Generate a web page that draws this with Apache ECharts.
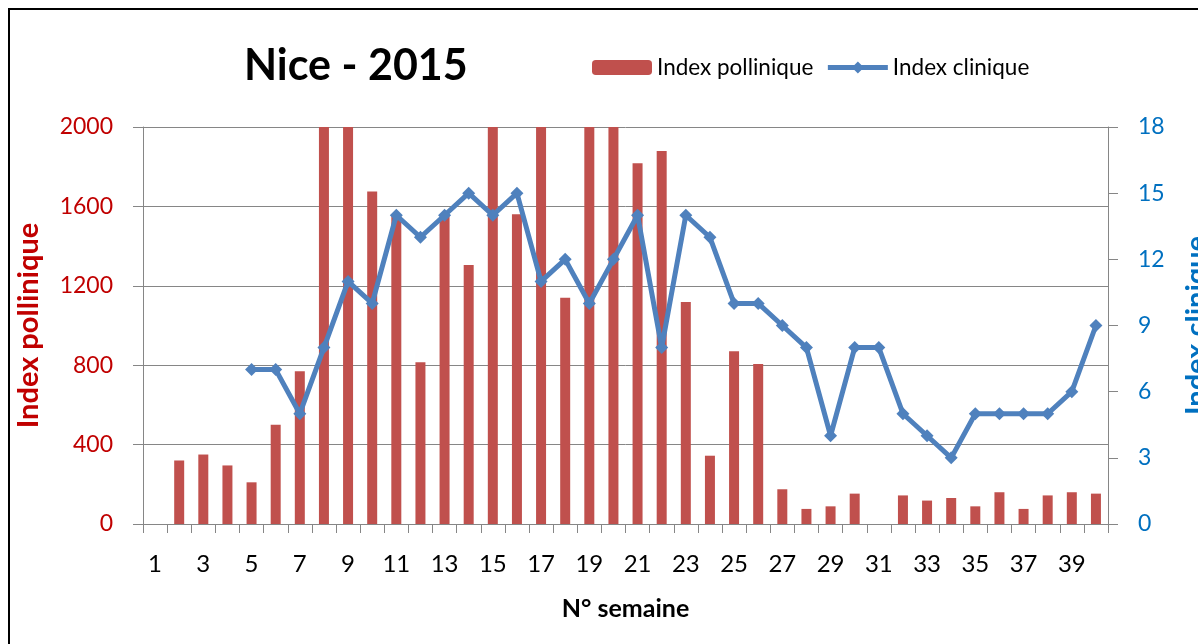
<!DOCTYPE html>
<html>
<head>
<meta charset="utf-8">
<script src="https://cdn.jsdelivr.net/npm/echarts@6/dist/echarts.min.js"></script>
<style>
  html, body { margin: 0; padding: 0; background: #fff; }
  #chart { width: 1198px; height: 644px; }
</style>
</head>
<body>
<div id="chart"></div>
<script>
// semaines 1..40
const weeks = [];
for (let i = 1; i <= 40; i++) weeks.push(String(i));

// Index pollinique (bars, left axis) - values over 2000 are cut at the top
const pollen = [
  null, 320, 350, 295, 210, 500, 770, 2000, 2000, 1675,
  1550, 815, 1550, 1305, 2000, 1560, 2000, 1140, 2000, 2000,
  1817, 1879, 1118, 344, 870, 806, 175, 76, 89, 153,
  null, 144, 118, 131, 89, 160, 76, 144, 160, 153
];

// Index clinique (line, right axis)
const clinique = [
  null, null, null, null, 7, 7, 5, 8, 11, 10,
  14, 13, 14, 15, 14, 15, 11, 12, 10, 12,
  14, 8, 14, 13, 10, 10, 9, 8, 4, 8,
  8, 5, 4, 3, 5, 5, 5, 5, 6, 9
];

const leftTicks = { min: 0, max: 2000, interval: 400 };
const rightTicks = { min: 0, max: 18, interval: 3 };

const red = "#C0504D";
const blue = "#4F81BD";
const font = "Lato, 'Open Sans', sans-serif";

const myChart = echarts.init(document.getElementById("chart"));

myChart.setOption({
  animation: false,
  textStyle: { fontFamily: font },
  title: {
    text: "Nice - 2015",
    left: 239,
    top: 40,
    textStyle: { fontSize: 43, fontWeight: "bold", color: "#000", fontFamily: font },
  },
  legend: {
    left: 587,
    top: 51,
    itemWidth: 60,
    itemHeight: 15,
    itemGap: 12,
    textStyle: { fontSize: 22.5, color: "#000", fontFamily: font },
    data: [
      { name: "Index pollinique" },
      { name: "Index clinique", lineStyle: { width: 5 }, itemStyle: { borderWidth: 0 } },
    ],
  },
  graphic: [
    {
      type: "rect",
      shape: { x: 9, y: 9, width: 1300, height: 700 },
      style: { fill: "none", stroke: "#000", lineWidth: 2 },
      silent: true,
    },
  ],
  grid: {
    left: 143,
    right: 90,
    top: 127,
    bottom: 120,
    containLabel: false,
    outerBoundsMode: "none",
  },
  xAxis: {
    type: "category",
    data: weeks,
    boundaryGap: true,
    name: "N° semaine",
    nameLocation: "middle",
    nameGap: 72,
    nameTextStyle: { fontSize: 25, fontWeight: "bold", color: "#000" },
    axisLine: { lineStyle: { color: "#868686", width: 1 } },
    axisTick: { show: true, interval: 0, length: 9, lineStyle: { color: "#868686" } },
    axisLabel: { interval: 1, fontSize: 24, color: "#000", margin: 28 },
  },
  yAxis: [
    {
      type: "value",
      min: leftTicks.min,
      max: leftTicks.max,
      interval: leftTicks.interval,
      position: "left",
      name: "Index pollinique",
      nameLocation: "middle",
      nameRotate: 90,
      nameGap: 100,
      nameTextStyle: { fontSize: 29, fontWeight: "bold", color: "#C00000" },
      axisLine: { show: true, lineStyle: { color: "#868686" } },
      axisTick: { show: true, length: 10, lineStyle: { color: "#868686" } },
      axisLabel: { fontSize: 23, color: "#C00000", margin: 30, formatter: (v) => String(v) },
      splitLine: { show: true, lineStyle: { color: "#868686", width: 1 } },
    },
    {
      type: "value",
      min: rightTicks.min,
      max: rightTicks.max,
      interval: rightTicks.interval,
      position: "right",
      name: "Index clinique",
      nameLocation: "middle",
      nameRotate: 90,
      nameGap: 74,
      nameTextStyle: { fontSize: 29, fontWeight: "bold", color: "#0070C0" },
      axisLine: { show: true, lineStyle: { color: "#868686" } },
      axisTick: { show: true, length: 10, lineStyle: { color: "#868686" } },
      axisLabel: { fontSize: 23, color: "#0070C0", margin: 30 },
      splitLine: { show: false },
    },
  ],
  series: [
    {
      name: "Index pollinique",
      type: "bar",
      yAxisIndex: 0,
      barWidth: 10,
      itemStyle: { color: red },
      data: pollen,
    },
    {
      name: "Index clinique",
      type: "line",
      yAxisIndex: 1,
      symbol: "diamond",
      symbolSize: 13,
      lineStyle: { color: blue, width: 5 },
      itemStyle: { color: blue },
      data: clinique,
    },
  ],
});
</script>
</body>
</html>
